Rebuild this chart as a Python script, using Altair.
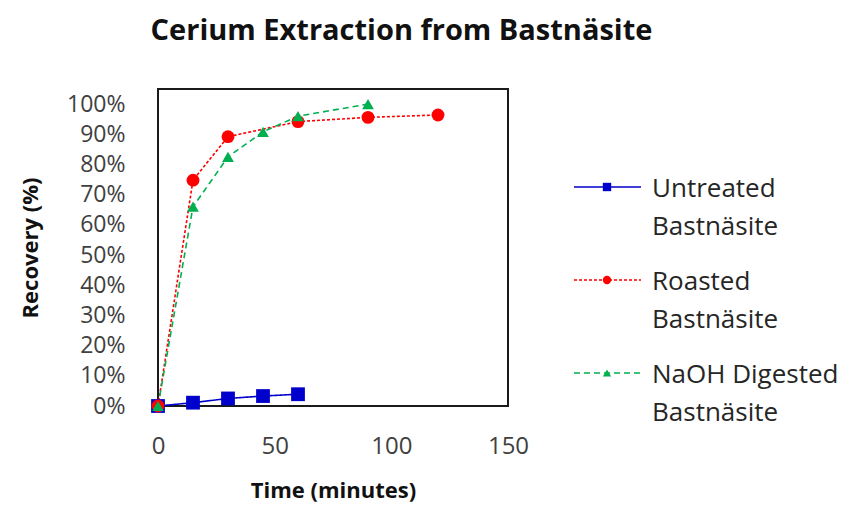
import altair as alt
import pandas as pd

series_names = ["Untreated Bastnäsite", "Roasted Bastnäsite", "NaOH Digested Bastnäsite"]
legend_labels = ["Untreated\nBastnäsite", "Roasted\nBastnäsite", "NaOH Digested\nBastnäsite"]

untreated_time = [0, 15, 30, 45, 60]
untreated_recovery = [0.0, 0.011, 0.025, 0.033, 0.039]

roasted_time = [0, 15, 30, 60, 90, 120]
roasted_recovery = [0.0, 0.748, 0.892, 0.942, 0.956, 0.964]

naoh_time = [0, 15, 30, 45, 60, 90]
naoh_recovery = [0.0, 0.66, 0.825, 0.908, 0.96, 1.0]

x_ticks = [0, 50, 100, 150]
y_ticks = [0.0, 0.1, 0.2, 0.3, 0.4, 0.5, 0.6, 0.7, 0.8, 0.9, 1.0]

colors = ["#0000CC", "#FF0000", "#00B050"]
shapes = ["square", "circle", "triangle-up"]
dashes = [[1, 0], [3, 2], [6, 4]]
marker_sizes = [190, 140, 150]
legend_marker_sizes = [70, 70, 60]

FONT = "Open Sans"

rows = []
for name, ts, rs in [
    (series_names[0], untreated_time, untreated_recovery),
    (series_names[1], roasted_time, roasted_recovery),
    (series_names[2], naoh_time, naoh_recovery),
]:
    for t, r in zip(ts, rs):
        rows.append({"series": name, "time": t, "recovery": r})
df = pd.DataFrame(rows)

color_scale = alt.Scale(domain=series_names, range=colors)
shape_scale = alt.Scale(domain=series_names, range=shapes)
dash_scale = alt.Scale(domain=series_names, range=dashes)

x_enc = alt.X(
    "time:Q",
    scale=alt.Scale(domain=[0, 150], nice=False),
    axis=alt.Axis(
        values=x_ticks, title="Time (minutes)", grid=False, domain=False, ticks=False,
        labelFontSize=24, labelFont=FONT, labelColor="#404040", labelPadding=28,
        titleFontSize=22, titleFont=FONT, titleFontWeight="bold", titleColor="#111111",
        titlePadding=22, labelFlush=False,
    ),
)
y_enc = alt.Y(
    "recovery:Q",
    scale=alt.Scale(domain=[0, 1.05], nice=False),
    axis=alt.Axis(
        values=y_ticks, format=".0%", title="Recovery (%)", grid=False, domain=False, ticks=False,
        labelFontSize=23, labelFont=FONT, labelColor="#404040", labelPadding=33,
        titleFontSize=22, titleFont=FONT, titleFontWeight="bold", titleColor="#111111",
        titlePadding=24, labelFlush=False,
    ),
)

lines = alt.Chart(df).mark_line(strokeWidth=1.6).encode(
    x=x_enc,
    y=y_enc,
    color=alt.Color("series:N", scale=color_scale, legend=None),
    strokeDash=alt.StrokeDash("series:N", scale=dash_scale, legend=None),
)
points = alt.Chart(df).mark_point(filled=True, opacity=1).encode(
    x=x_enc,
    y=y_enc,
    color=alt.Color("series:N", scale=color_scale, legend=None),
    shape=alt.Shape("series:N", scale=shape_scale, legend=None),
    size=alt.Size("series:N", scale=alt.Scale(domain=series_names, range=marker_sizes), legend=None),
)
main = alt.layer(lines, points).properties(width=350, height=317)

leg_df = pd.DataFrame({"series": series_names, "label": legend_labels})
leg_y = alt.Y("series:N", scale=alt.Scale(type="point", domain=series_names, range=[98, 284], padding=0), axis=None)
leg_base = alt.Chart(leg_df)
leg_rule = leg_base.mark_rule(strokeWidth=1.6).encode(
    x=alt.value(0), x2=alt.value(67), y=leg_y,
    color=alt.Color("series:N", scale=color_scale, legend=None),
    strokeDash=alt.StrokeDash("series:N", scale=dash_scale, legend=None),
)
leg_pts = leg_base.mark_point(filled=True, opacity=1).encode(
    x=alt.value(33), y=leg_y,
    color=alt.Color("series:N", scale=color_scale, legend=None),
    shape=alt.Shape("series:N", scale=shape_scale, legend=None),
    size=alt.Size("series:N", scale=alt.Scale(domain=series_names, range=legend_marker_sizes), legend=None),
)
leg_text = leg_base.mark_text(
    align="left", baseline="middle", dy=2, lineHeight=38, lineBreak="\n",
    fontSize=26, font=FONT, color="#262626",
).encode(x=alt.value(78), y=leg_y, text="label:N")
legend = alt.layer(leg_rule, leg_pts, leg_text).properties(
    width=250, height=317, view=alt.ViewBackground(strokeOpacity=0)
).resolve_scale(size="independent")

chart = alt.hconcat(main, legend, spacing=43).properties(
    title=alt.TitleParams(
        "Cerium Extraction from Bastnäsite", fontSize=29, font=FONT, fontWeight="bold",
        color="#111111", anchor="middle", offset=42, dx=-27,
    ),
    padding={"left": 10, "top": 9, "right": 0, "bottom": 0},
).configure_view(stroke="#1a1a1a", strokeWidth=2).configure_concat(spacing=43).resolve_scale(
    size="independent"
)

chart.save("out.html", embed_options={"renderer": "svg", "actions": False})
